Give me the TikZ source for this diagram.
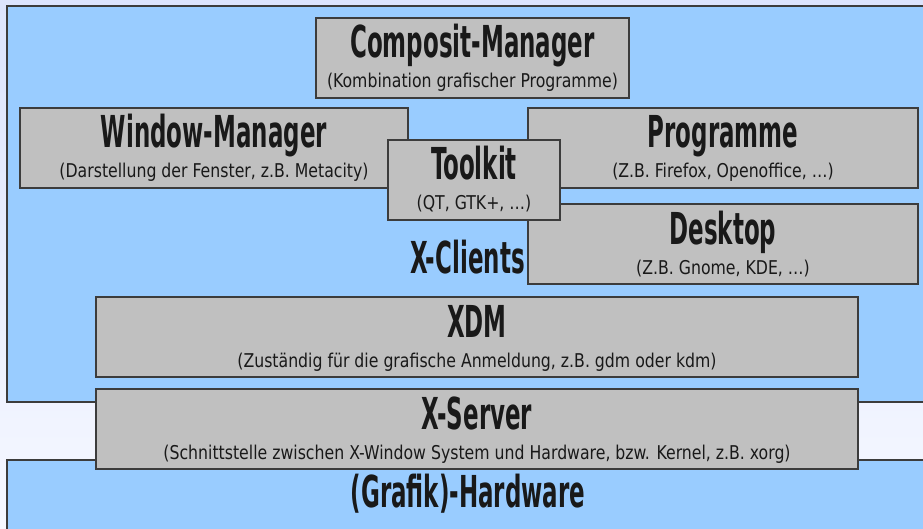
\documentclass[tikz,border=0pt]{standalone}
\usepackage{fontspec}
\setmainfont{DejaVu Sans Condensed}
\newfontfamily\titlefont[FakeStretch=0.58]{DejaVu Sans Condensed}
\newfontfamily\subfont[FakeStretch=0.92]{DejaVu Sans Condensed}
\usetikzlibrary{calc}
\definecolor{bgtop}{RGB}{220,228,253}
\definecolor{bgbot}{RGB}{246,248,255}
\definecolor{layerblue}{RGB}{153,204,255}
\definecolor{boxgray}{RGB}{192,192,192}
\definecolor{edge}{RGB}{60,60,60}
\tikzset{
  layer/.style={fill=layerblue,draw=edge,line width=1.1pt},
  box/.style={rectangle,fill=boxgray,draw=edge,line width=1.1pt,anchor=north west,inner sep=0pt,outer sep=0pt},
  ttl/.style={anchor=base,inner sep=0pt,font=\titlefont\bfseries\fontsize{44}{44}\selectfont,text=black!90},
  sub/.style={anchor=base,inner sep=0pt,font=\subfont\fontsize{19}{19}\selectfont,text=black!90}
}
\begin{document}
\begin{tikzpicture}[x=1pt,y=-1pt]
\useasboundingbox (0,0) rectangle (923,529);
\clip (0,0) rectangle (923,529);
\shade[top color=bgtop,bottom color=bgbot] (0,0) rectangle (923,529);
% layers
\path[layer] (7,6) rectangle (940,402);
\path[layer] (7,460) rectangle (940,545);
\node[ttl] (xcl) at (467.5,273) {X-Clients};
\node[ttl] (hw) at (468,507) {(Grafik)-Hardware};
% boxes
\node[box,minimum width=313pt,minimum height=80pt] (comp) at (316,18) {};
\node[box,minimum width=388pt,minimum height=80pt] (wm) at (20,108) {};
\node[box,minimum width=390pt,minimum height=80pt] (prog) at (528,108) {};
\node[box,minimum width=390pt,minimum height=80pt] (desk) at (528,204) {};
\node[box,minimum width=172pt,minimum height=80pt] (tool) at (388,140) {};
\node[box,minimum width=762pt,minimum height=80pt] (xdm) at (96,297) {};
\node[box,minimum width=762pt,minimum height=80pt] (xsrv) at (96,389) {};
% labels
\foreach \b/\t/\s in {comp/Composit-Manager/(Kombination grafischer Programme),
  wm/Window-Manager/{(Darstellung der Fenster, z.B. Metacity)},
  prog/Programme/{(Z.B. Firefox, Openoffice, \dots)},
  desk/Desktop/{(Z.B. Gnome, KDE, \dots)},
  tool/Toolkit/{(QT, GTK+, \dots)},
  xdm/XDM/{(Zuständig für die grafische Anmeldung, z.B. gdm oder kdm)},
  xsrv/X-Server/{(Schnittstelle zwischen X-Window System und Hardware, bzw. Kernel, z.B. xorg)}}{
  \node[ttl] (\b-t) at ($(\b.north)+(0,40)$) {\t};
  \node[sub] (\b-s) at ($(\b.north)+(0,70)$) {\s};
}
\end{tikzpicture}
\end{document}
